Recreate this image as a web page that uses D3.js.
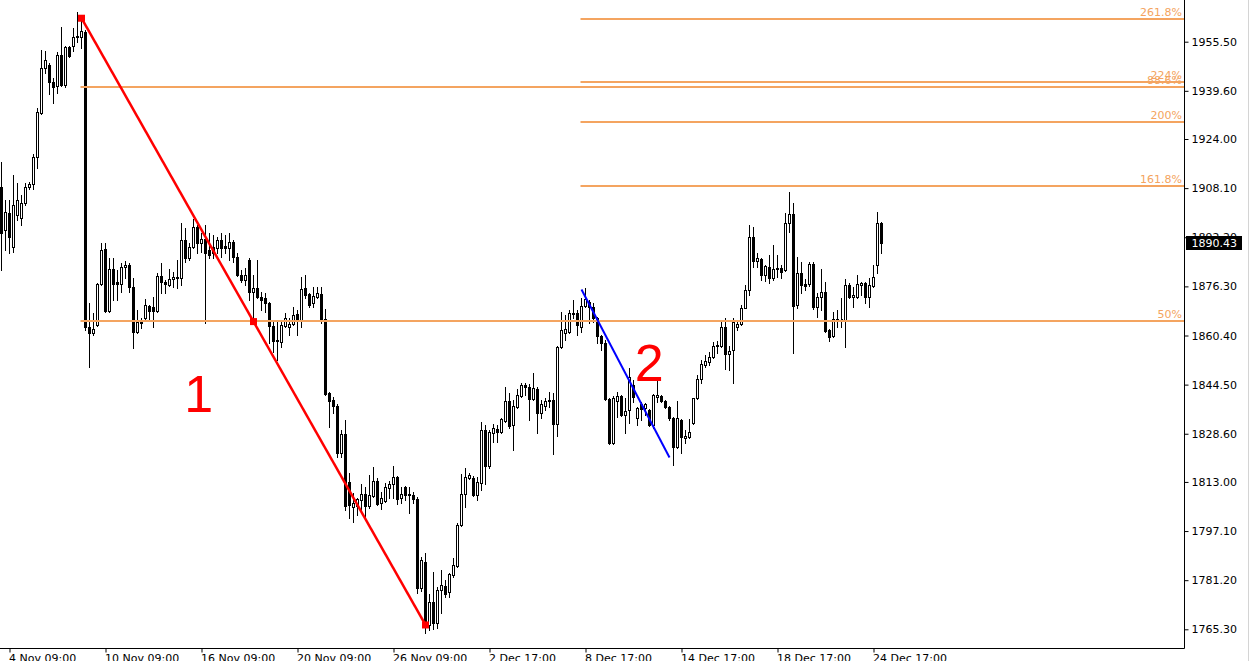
<!DOCTYPE html>
<html>
<head>
<meta charset="utf-8">
<script src="https://cdn.jsdelivr.net/npm/d3@7"></script>
<style>
  html, body { margin: 0; padding: 0; background: #fff; overflow: hidden; }
  svg { display: block; font-family: "DejaVu Sans", sans-serif; }
</style>
</head>
<body>
<div class="chart"></div>
<script>
// XAUUSD H4, one row per candle: open, high, low, close
const candles = [
  [1908.5,1916.6,1881.6,1893.6],[1894.5,1904.3,1888.1,1900.4],[1900.1,1904.3,1887.1,1892.3],[1889.0,1912.4,1887.4,1902.6],
  [1899.4,1909.8,1897.8,1904.3],[1898.4,1905.9,1896.2,1903.3],[1903.3,1909.8,1902.6,1908.5],[1908.5,1910.1,1907.8,1909.4],
  [1909.4,1919.2,1907.8,1918.2],[1918.2,1934.0,1914.6,1932.7],[1932.4,1952.8,1932.0,1947.0],[1947.0,1952.5,1945.4,1949.6],
  [1948.0,1948.6,1938.6,1942.5],[1942.5,1943.8,1935.7,1940.8],[1941.2,1952.2,1938.9,1951.2],[1951.2,1960.3,1941.2,1941.5],
  [1941.5,1954.1,1940.8,1953.8],[1953.8,1954.1,1950.5,1950.9],[1954.1,1959.9,1952.5,1957.0],[1957.0,1965.1,1955.4,1957.3],
  [1957.0,1963.2,1953.5,1959.0],[1958.6,1959.3,1862.2,1863.2],[1863.2,1870.9,1850.2,1861.2],[1861.2,1867.7,1860.6,1862.5],
  [1863.8,1877.4,1863.5,1877.1],[1877.1,1890.3,1876.7,1888.1],[1888.4,1890.3,1868.0,1868.3],[1868.3,1885.5,1868.0,1881.9],
  [1881.9,1885.5,1871.9,1877.1],[1877.7,1881.6,1871.9,1877.1],[1877.1,1883.9,1874.5,1882.6],[1882.6,1884.5,1879.0,1883.2],
  [1883.2,1883.9,1874.5,1876.1],[1876.1,1879.0,1856.4,1861.5],[1861.5,1868.7,1861.2,1864.8],[1864.8,1866.1,1862.8,1864.6],
  [1866.1,1872.2,1865.4,1870.3],[1870.0,1870.3,1865.4,1868.3],[1869.6,1872.9,1863.2,1868.3],[1868.3,1880.6,1868.0,1879.7],
  [1879.7,1883.9,1874.2,1877.7],[1877.7,1878.4,1874.2,1877.1],[1876.7,1881.9,1876.4,1878.7],[1878.7,1881.0,1876.1,1879.3],
  [1879.3,1884.8,1875.8,1879.0],[1879.0,1896.8,1876.7,1891.3],[1891.3,1895.2,1884.2,1885.5],[1885.5,1890.3,1884.8,1889.0],
  [1889.0,1898.1,1888.7,1895.5],[1895.5,1896.2,1887.1,1890.3],[1890.3,1893.6,1887.4,1891.6],[1891.6,1896.2,1864.4,1887.1],
  [1888.1,1893.6,1885.5,1886.5],[1889.0,1892.9,1885.5,1887.1],[1888.7,1892.3,1887.1,1891.3],[1891.3,1893.6,1885.8,1888.7],
  [1889.4,1892.9,1887.1,1888.7],[1888.7,1893.6,1884.8,1890.7],[1890.7,1891.3,1884.2,1885.8],[1885.8,1887.1,1879.7,1880.0],
  [1880.0,1881.6,1877.7,1878.4],[1878.4,1882.3,1876.7,1880.0],[1884.8,1885.5,1871.9,1874.5],[1874.5,1880.0,1864.8,1875.8],
  [1875.8,1884.8,1872.5,1872.9],[1872.9,1874.5,1868.7,1871.9],[1872.5,1874.2,1868.0,1870.9],[1870.9,1871.2,1858.0,1863.5],
  [1863.5,1865.4,1855.1,1858.6],[1858.6,1865.4,1852.5,1858.9],[1858.3,1864.8,1856.7,1863.8],[1863.5,1867.7,1863.2,1866.1],
  [1863.2,1866.1,1860.6,1864.1],[1864.1,1869.6,1863.8,1867.0],[1867.4,1868.7,1860.6,1865.1],[1865.4,1879.3,1863.2,1875.5],
  [1875.8,1880.0,1872.5,1873.5],[1873.8,1874.2,1869.6,1870.3],[1870.9,1876.1,1869.6,1873.2],[1872.9,1876.1,1872.5,1874.2],
  [1873.8,1876.1,1864.4,1865.1],[1865.7,1869.0,1841.1,1841.5],[1841.8,1842.1,1830.8,1839.2],[1839.5,1840.5,1835.3,1837.6],
  [1837.6,1838.2,1821.1,1822.4],[1822.4,1829.8,1821.1,1828.5],[1828.5,1833.0,1803.9,1805.2],[1813.0,1815.9,1801.3,1805.5],
  [1804.9,1809.4,1800.0,1806.2],[1805.2,1807.8,1802.3,1807.5],[1807.2,1812.3,1803.9,1809.1],[1809.1,1811.4,1800.7,1805.2],
  [1805.2,1815.2,1804.6,1808.8],[1808.4,1817.8,1808.1,1813.3],[1813.3,1814.3,1805.5,1805.9],[1806.2,1809.7,1804.2,1807.8],
  [1806.8,1812.7,1806.5,1811.4],[1811.0,1813.3,1807.8,1812.3],[1812.3,1818.2,1807.8,1814.6],[1814.6,1814.9,1805.9,1807.5],
  [1807.8,1811.4,1806.2,1809.1],[1811.4,1811.7,1807.2,1808.8],[1809.1,1811.4,1802.9,1808.8],[1808.8,1809.7,1806.2,1807.5],
  [1807.5,1808.1,1777.0,1778.7],[1778.7,1788.7,1777.7,1787.7],[1787.1,1790.0,1764.1,1766.7],[1766.7,1776.7,1765.1,1774.1],
  [1774.1,1783.8,1765.4,1767.3],[1767.3,1779.0,1765.7,1778.0],[1778.0,1784.5,1770.6,1779.6],[1779.3,1781.3,1775.8,1776.7],
  [1777.4,1783.5,1775.8,1783.2],[1782.9,1788.4,1782.2,1786.1],[1785.8,1799.7,1785.5,1799.1],[1799.1,1815.6,1798.7,1809.1],
  [1809.1,1817.5,1804.9,1814.6],[1814.3,1815.9,1813.9,1815.2],[1814.3,1814.9,1808.4,1808.8],[1808.8,1814.6,1807.2,1813.0],
  [1812.7,1832.4,1810.4,1829.8],[1829.8,1831.4,1812.3,1818.2],[1818.2,1829.8,1817.5,1829.2],[1828.8,1831.8,1825.9,1830.5],
  [1830.1,1831.4,1825.9,1829.2],[1829.2,1833.7,1828.8,1833.4],[1832.7,1843.7,1832.4,1839.2],[1839.2,1841.8,1830.5,1831.1],
  [1831.4,1839.5,1823.3,1837.6],[1837.3,1843.1,1837.0,1841.1],[1840.8,1845.0,1840.5,1844.4],[1844.4,1845.0,1841.1,1843.7],
  [1843.7,1844.7,1833.0,1839.8],[1839.8,1848.3,1839.5,1843.4],[1843.1,1843.7,1828.8,1835.3],[1835.3,1839.5,1833.7,1838.2],
  [1837.6,1840.2,1836.3,1839.2],[1839.2,1842.1,1837.3,1839.5],[1839.5,1841.8,1822.0,1831.8],[1831.8,1857.0,1827.9,1856.7],
  [1856.7,1868.0,1856.4,1862.2],[1861.2,1867.0,1858.9,1862.5],[1861.5,1868.7,1861.2,1867.7],[1867.4,1871.9,1866.1,1867.7],
  [1867.7,1868.7,1860.6,1863.8],[1863.2,1872.5,1861.5,1870.0],[1870.0,1875.8,1869.6,1872.2],[1871.2,1871.9,1864.4,1869.6],
  [1869.6,1870.9,1864.8,1866.1],[1866.1,1866.4,1858.0,1860.2],[1860.2,1860.6,1855.7,1858.0],[1858.0,1858.9,1839.5,1839.8],
  [1839.8,1840.2,1825.3,1825.6],[1825.6,1840.8,1825.3,1840.2],[1839.2,1842.1,1834.0,1840.8],[1840.8,1841.1,1834.3,1834.7],
  [1834.7,1840.2,1828.8,1836.0],[1836.3,1849.9,1832.1,1847.0],[1844.4,1846.0,1838.9,1840.5],[1833.7,1837.3,1831.4,1836.9],
  [1838.2,1838.9,1833.0,1836.6],[1836.9,1838.5,1834.7,1838.2],[1836.3,1836.6,1831.1,1831.4],[1831.4,1841.5,1830.5,1841.2],
  [1840.5,1846.3,1838.9,1841.1],[1840.8,1841.1,1838.9,1839.2],[1839.2,1839.5,1836.9,1837.3],[1837.3,1837.6,1833.0,1833.7],
  [1833.7,1834.0,1818.5,1824.3],[1824.3,1839.2,1824.0,1833.7],[1833.0,1833.4,1822.4,1827.5],[1827.2,1829.8,1825.6,1827.9],
  [1827.5,1833.4,1827.2,1829.2],[1832.1,1840.2,1831.8,1840.2],[1840.2,1847.6,1839.8,1846.3],[1846.3,1852.5,1845.0,1851.2],
  [1850.8,1854.1,1850.2,1852.1],[1851.8,1855.1,1850.8,1853.4],[1853.4,1858.3,1853.1,1857.0],[1857.0,1858.6,1854.7,1857.3],
  [1857.0,1865.4,1856.7,1863.2],[1863.2,1866.1,1849.6,1854.4],[1854.4,1857.0,1849.2,1855.4],[1855.7,1866.1,1845.0,1864.8],
  [1863.2,1864.8,1862.2,1864.1],[1864.1,1870.3,1863.8,1869.3],[1869.3,1876.7,1869.3,1875.1],[1875.1,1896.2,1873.5,1892.3],
  [1892.3,1895.5,1882.6,1884.5],[1884.5,1887.1,1882.6,1885.5],[1885.2,1885.5,1878.4,1880.0],[1880.0,1883.2,1878.0,1882.9],
  [1882.6,1886.5,1877.4,1879.0],[1879.0,1889.7,1878.4,1881.9],[1881.9,1886.5,1879.3,1882.3],[1882.3,1883.2,1879.0,1881.0],
  [1881.6,1900.1,1881.3,1896.8],[1896.8,1906.9,1893.9,1899.7],[1899.7,1903.3,1854.7,1870.0],[1870.3,1885.8,1869.3,1880.6],
  [1880.6,1884.2,1874.2,1876.7],[1877.1,1878.7,1875.1,1876.4],[1877.1,1884.2,1876.4,1883.5],[1883.5,1884.2,1869.0,1869.6],
  [1869.6,1874.2,1866.4,1872.9],[1872.9,1881.9,1868.7,1874.5],[1874.5,1877.7,1861.5,1861.9],[1862.2,1862.5,1858.6,1859.9],
  [1860.2,1868.0,1859.9,1865.7],[1865.4,1868.7,1863.2,1865.7],[1865.7,1872.5,1863.2,1865.7],[1865.4,1878.7,1856.7,1876.7],
  [1876.7,1877.4,1872.5,1872.9],[1872.9,1876.1,1869.6,1873.5],[1872.9,1880.0,1872.5,1877.1],[1876.7,1877.7,1873.5,1877.4],
  [1877.4,1877.7,1870.9,1872.9],[1872.9,1879.0,1869.6,1876.7],[1876.4,1883.2,1876.1,1879.3],[1883.2,1900.4,1880.6,1896.8],
  [1896.8,1897.1,1887.1,1890.43]
];

const priceTicks = [1955.5, 1939.6, 1924.0, 1908.1, 1892.2, 1876.3, 1860.4, 1844.5, 1828.6, 1813.0, 1797.1, 1781.2, 1765.3];
const timeTicks = [2, 26, 50, 74, 98, 122, 146, 170, 194, 218];
const timeLabels = ["4 Nov 09:00", "10 Nov 09:00", "16 Nov 09:00", "20 Nov 09:00", "26 Nov 09:00",
  "2 Dec 17:00", "8 Dec 17:00", "14 Dec 17:00", "18 Dec 17:00", "24 Dec 17:00"];
const lastPrice = 1890.43;

// fibonacci retracement on swing 1 (100% = high, 0% = low)
const fib1Start = 20;
const fib1Points = [1963.3, 1766.9];
const fib1Levels = [0.5, 0.886];
const fib1Labels = ["50%", "88.6%"];
// fibonacci expansion on swing 2
const fib2Start = 145;
const fib2Points = [1875.3, 1821.25];
const fib2Levels = [1.618, 2.0, 2.24, 2.618];
const fib2Labels = ["161.8%", "200%", "224%", "261.8%"];

const trend1 = [[20, 1963.1], [106, 1766.7]];
const trend2 = [[145, 1875.3], [167, 1820.9]];
const notes = [{ text: "1", i: 49.3, price: 1835.7 }, { text: "2", i: 161.9, price: 1845.7 }];

const width = 1250, height = 661;
const plotRight = 1184.5, plotBottom = 648.5;

const svg = d3.select(".chart").append("svg")
  .attr("width", width)
  .attr("height", height);

const x = d3.scaleLinear().domain([0, candles.length - 1]).range([1.5, 1.5 + 4 * (candles.length - 1)]);
const y = d3.scaleLinear().domain([1765.3, 1955.5]).range([629.3, 41.7]);

const plot = svg.append("g");

// candles: wick then body
plot.selectAll("line.wick")
  .data(candles)
  .join("line")
  .attr("class", "wick")
  .attr("x1", (d, i) => x(i)).attr("x2", (d, i) => x(i))
  .attr("y1", d => Math.round(y(d[1])))
  .attr("y2", d => Math.round(y(d[2])) + 1)
  .attr("stroke", "#000")
  .attr("shape-rendering", "crispEdges");

plot.selectAll("path.body")
  .data(candles)
  .join("path")
  .attr("class", "body")
  .attr("d", (d, i) => {
    var x0 = x(i) - 1, x1 = x(i) + 1;
    var t = Math.round(y(Math.max(d[0], d[3]))) + 0.5;
    var b = Math.round(y(Math.min(d[0], d[3]))) + 0.5;
    return "M" + x0 + "," + t + "H" + x1 + "V" + b + "H" + x0 + "Z";
  })
  .attr("fill", d => (d[3] >= d[0] ? "#fff" : "#000"))
  .attr("stroke", "#000")
  .attr("shape-rendering", "crispEdges");

// fibonacci levels
const fibColor = "#F4A460";
const drawFib = (start, pts, levels, labels) => {
  const lv = levels.map((l, j) => ({
    price: pts[1] + l * (pts[0] - pts[1]),
    label: labels[j]
  }));
  plot.append("g").selectAll("line")
    .data(lv)
    .join("line")
    .attr("x1", x(start) - 1)
    .attr("x2", plotRight)
    .attr("y1", d => Math.round(y(d.price)))
    .attr("y2", d => Math.round(y(d.price)))
    .attr("stroke", fibColor)
    .attr("stroke-width", 2);
  plot.append("g").selectAll("text")
    .data(lv)
    .join("text")
    .attr("x", plotRight - 2.5)
    .attr("y", d => Math.round(y(d.price)) - 3)
    .attr("text-anchor", "end")
    .attr("fill", fibColor)
    .style("font-size", "11px")
    .text(d => d.label);
};
drawFib(fib1Start, fib1Points, fib1Levels, fib1Labels);
drawFib(fib2Start, fib2Points, fib2Levels, fib2Labels);

// trend lines
const line = d3.line().x(d => x(d[0])).y(d => y(d[1]));
plot.append("path").datum(trend1)
  .attr("d", line)
  .attr("fill", "none")
  .attr("stroke", "#FF0000")
  .attr("stroke-width", 2.5);
plot.append("path").datum(trend2)
  .attr("d", line)
  .attr("fill", "none")
  .attr("stroke", "#0000FF")
  .attr("stroke-width", 2);

// selection markers on trend 1 (start, middle, end)
const mid = [(trend1[0][0] + trend1[1][0]) / 2, (trend1[0][1] + trend1[1][1]) / 2];
plot.selectAll("rect.marker")
  .data([trend1[0], mid, trend1[1]])
  .join("rect")
  .attr("class", "marker")
  .attr("x", d => x(d[0]) - 3.5)
  .attr("y", d => y(d[1]) - 3.5)
  .attr("width", 7)
  .attr("height", 7)
  .attr("fill", "#FF0000");

// text labels
plot.selectAll("text.note")
  .data(notes)
  .join("text")
  .attr("class", "note")
  .attr("x", d => x(d.i))
  .attr("y", d => y(d.price))
  .attr("text-anchor", "middle")
  .attr("fill", "#FF0000")
  .style("font-family", "'Liberation Sans', Arial, sans-serif")
  .style("font-size", "52px")
  .text(d => d.text);

// frame
svg.append("line")
  .attr("x1", plotRight).attr("x2", plotRight)
  .attr("y1", 0).attr("y2", plotBottom)
  .attr("stroke", "#000");
svg.append("line")
  .attr("x1", 0).attr("x2", plotRight)
  .attr("y1", plotBottom).attr("y2", plotBottom)
  .attr("stroke", "#000");
svg.append("line")
  .attr("x1", 1248.5).attr("x2", 1248.5)
  .attr("y1", 0).attr("y2", height)
  .attr("stroke", "#d4d4d4");

// price axis
const yAxis = svg.append("g")
  .attr("transform", "translate(" + plotRight + ",0)")
  .call(d3.axisRight(y).tickValues(priceTicks).tickSize(4).tickPadding(3).tickFormat(d3.format(".2f")));
yAxis.select(".domain").remove();
yAxis.selectAll("text")
  .style("font-size", "11px")
  .style("font-family", "'DejaVu Sans', sans-serif")
  .attr("fill", "#000");

// time axis
const xAxis = svg.append("g")
  .attr("transform", "translate(0," + plotBottom + ")")
  .call(d3.axisBottom(x).tickValues(timeTicks).tickSize(4).tickPadding(2).tickFormat((d, i) => timeLabels[i]));
xAxis.select(".domain").remove();
xAxis.selectAll("text")
  .attr("text-anchor", "start")
  .attr("x", -1)
  .style("font-size", "11px")
  .style("font-family", "'DejaVu Sans', sans-serif")
  .attr("fill", "#000");

// last price box
svg.append("rect")
  .attr("x", plotRight + 1.5)
  .attr("y", Math.round(y(lastPrice)) - 7)
  .attr("width", 56)
  .attr("height", 14)
  .attr("fill", "#000");
svg.append("text")
  .attr("x", plotRight + 7)
  .attr("y", y(lastPrice))
  .attr("dy", "0.35em")
  .attr("fill", "#fff")
  .style("font-size", "11px")
  .text(d3.format(".2f")(lastPrice));
</script>
</body>
</html>
